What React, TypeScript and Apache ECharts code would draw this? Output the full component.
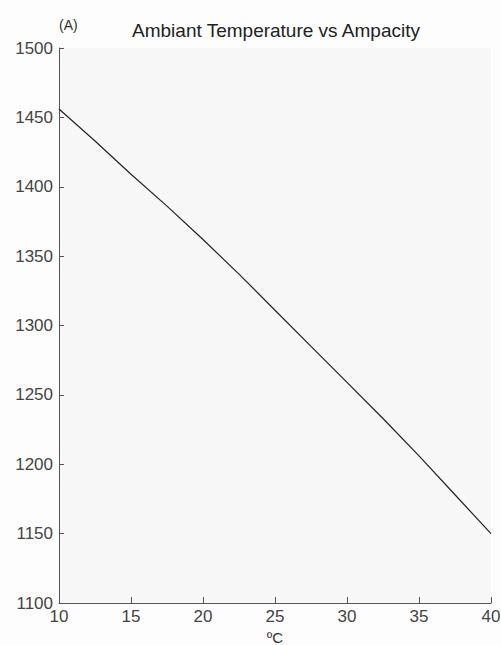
import React, { useEffect, useRef } from "react";
import * as echarts from "echarts";

const temperatures = [10, 12.5, 15, 17.5, 20, 22.5, 25, 27.5, 30, 32.5, 35, 37.5, 40];
const ampacity = [1456, 1433, 1409, 1386, 1362, 1337, 1311, 1285, 1259, 1233, 1206, 1178, 1150];

const titleText = "Ambiant Temperature vs Ampacity";
const yUnit = "(A)";
const xUnit = "ºC";

export default function App() {
  const ref = useRef<HTMLDivElement>(null);
  useEffect(() => {
    if (!ref.current) return;
    const chart = echarts.init(ref.current, undefined, { renderer: "svg" });
    const font = "Arial, 'Liberation Sans', Helvetica, sans-serif";
    chart.setOption({
      animation: false,
      backgroundColor: "#fdfdfd",
      title: {
        text: titleText,
        left: 271,
        top: 16,
        textAlign: "center",
        textStyle: { fontFamily: font, fontSize: 19, fontWeight: "normal", color: "#222" },
      },
      grid: {
        left: 59,
        right: 10,
        top: 48,
        bottom: 42,
        show: true,
        backgroundColor: "#f7f7f7",
        borderWidth: 0,
        outerBoundsMode: "none",
        containLabel: false,
      },
      xAxis: {
        type: "value",
        min: 10,
        max: 40,
        interval: 5,
        name: xUnit,
        nameLocation: "middle",
        nameGap: 24,
        nameTextStyle: { fontFamily: font, fontSize: 15, color: "#333", verticalAlign: "top" },
        axisLine: { show: true, lineStyle: { color: "#555", width: 1 } },
        axisTick: { show: true, inside: true, length: 6, lineStyle: { color: "#555" } },
        axisLabel: { fontFamily: font, fontSize: 17, color: "#444", margin: 5, formatter: (v: number) => String(v) },
        splitLine: { show: false },
      },
      yAxis: {
        type: "value",
        min: 1100,
        max: 1500,
        interval: 50,
        name: yUnit,
        nameLocation: "end",
        nameGap: 16,
        nameTextStyle: { fontFamily: font, fontSize: 14, color: "#333", align: "left", padding: [0, 0, 0, 0] },
        axisLine: { show: true, lineStyle: { color: "#555", width: 1 } },
        axisTick: { show: true, inside: true, length: 5, lineStyle: { color: "#555" } },
        axisLabel: { fontFamily: font, fontSize: 17, color: "#444", margin: 6, formatter: (v: number) => String(v) },
        splitLine: { show: false },
      },
      series: [
        {
          type: "line",
          data: temperatures.map((t, i) => [t, ampacity[i]]),
          showSymbol: false,
          lineStyle: { color: "#222", width: 1.2 },
        },
      ],
    });
    return () => chart.dispose();
  }, []);
  return (
    <div
      ref={ref}
      style={{ position: "fixed", left: 0, top: 0, width: 501, height: 645 }}
    />
  );
}
